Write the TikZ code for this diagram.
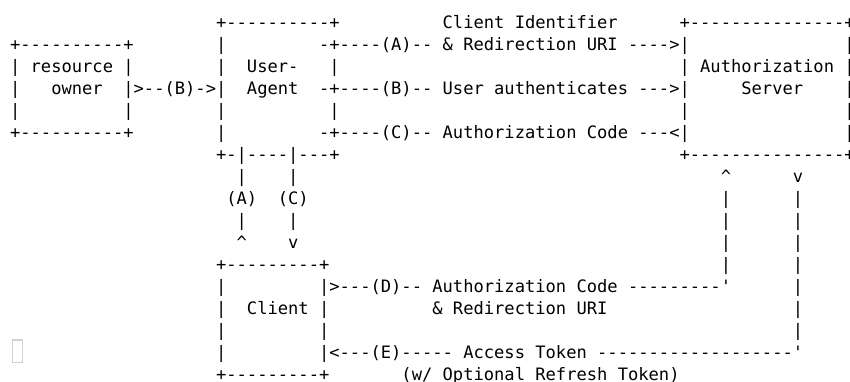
\documentclass[tikz,border=0pt]{standalone}
\usepackage{fontspec}
\setmonofont{DejaVu Sans Mono}
\usepackage{tikz}
\tikzset{
    chars/.style={font=\ttfamily\fontsize{17.11}{22}\selectfont,inner sep=0pt,anchor=base west},
    asciibox/.style={chars,align=left},
    flowtext/.style={chars},
    riser/.style={chars,align=center},
    tofu/.style={draw=black!18,line width=1.2pt,minimum width=10pt,minimum height=22.7pt,inner sep=0pt},
}

\begin{document}
\begin{tikzpicture}[x=10.3pt,y=-22pt]
\useasboundingbox (-9.85pt,28pt) rectangle (840.15pt,-353pt);
% the four boxes (placed by the baseline of their last line)
\node[asciibox] (owner) at (0,5) {+----------+\\|~resource~|\\|~~~owner~~|\\|~~~~~~~~~~|\\+----------+};
\node[asciibox] (agent) at (20,6) {+----------+\\|~~~~~~~~~-+\\|~~User-~~~|\\|~~Agent~~-+\\|~~~~~~~~~~|\\|~~~~~~~~~-+\\+-|----|---+};
\node[asciibox] (server) at (65,6) {+---------------+\\|~~~~~~~~~~~~~~~|\\|~Authorization~|\\|~~~~~Server~~~~|\\|~~~~~~~~~~~~~~~|\\|~~~~~~~~~~~~~~~|\\+---------------+};
\node[asciibox] (client) at (20,16) {+---------+\\|~~~~~~~~~|\\|~~Client~|\\|~~~~~~~~~|\\|~~~~~~~~~|\\+---------+};
% flows between them
\node[flowtext] (clientid) at (42,0) {Client Identifier};
\node[flowtext] (flowA) at (32,1) {----(A)-- \& Redirection URI ---->};
\node[flowtext] (flowB1) at (12,3) {>--(B)->};
\node[flowtext] (flowB2) at (32,3) {----(B)-- User authenticates --->};
\node[flowtext] (flowC) at (32,5) {----(C)-- Authorization Code ---<};
\node[riser] (riseA) at (21,10) {|\\(A)\\|\\\textasciicircum};
\node[riser] (dropC) at (26,10) {|\\(C)\\|\\v};
\node[flowtext] (flowD) at (31,12) {>---(D)-- Authorization Code ---------'};
\node[flowtext] (redir) at (41,13) {\& Redirection URI};
\node[riser] (riseD) at (69,11) {\textasciicircum\\|\\|\\|\\|};
\node[flowtext] (flowE) at (31,15) {<---(E)----- Access Token -------------------'};
\node[flowtext] (refresh) at (38,16) {(w/ Optional Refresh Token)};
\node[riser] (dropE) at (76,14) {v\\|\\|\\|\\|\\|\\|\\|};
\node[tofu] (missing) at (7.85pt,-323.35pt) {};
\end{tikzpicture}
\end{document}
